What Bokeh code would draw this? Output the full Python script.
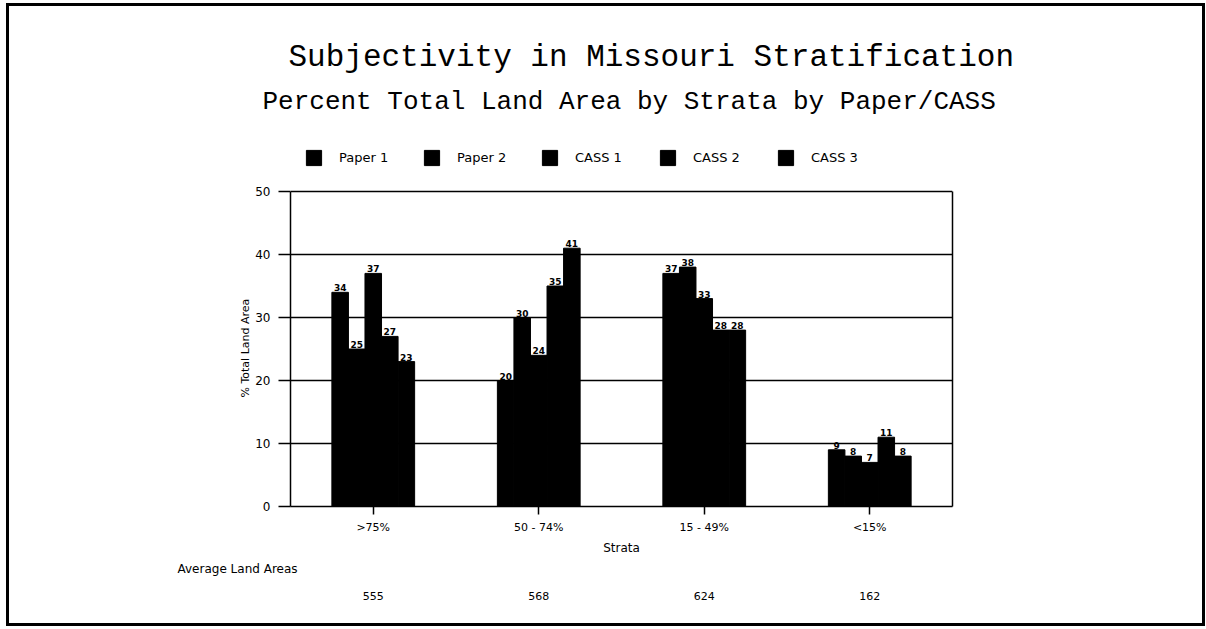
from bokeh.plotting import figure
from bokeh.models import (ColumnDataSource, FactorRange, Range1d, Legend, LegendItem,
                          LabelSet, Title, FixedTicker, CategoricalAxis, LinearAxis)
from bokeh.transform import dodge
from bokeh.core.properties import value
from bokeh.embed import file_html
from bokeh.resources import INLINE

# ---------------- data ----------------
strata = [">75%", "50 - 74%", "15 - 49%", "<15%"]
series_names = ["Paper 1", "Paper 2", "CASS 1", "CASS 2", "CASS 3"]
paper1 = [34, 20, 37, 9]
paper2 = [25, 30, 38, 8]
cass1 = [37, 24, 33, 7]
cass2 = [27, 35, 28, 11]
cass3 = [23, 41, 28, 8]
avg_land_area = [555, 568, 624, 162]
y_ticks = [0, 10, 20, 30, 40, 50]

title_text = "Subjectivity in Missouri Stratification"
subtitle_text = "Percent Total Land Area by Strata by Paper/CASS"
y_label = "% Total Land Area"
x_label = "Strata"
avg_caption = "Average Land Areas"

# ---------------- build ----------------
SANS = "DejaVu Sans"
MONO = "Liberation Mono"

keys = ["paper1", "paper2", "cass1", "cass2", "cass3"]
series_values = [paper1, paper2, cass1, cass2, cass3]
data = {"strata": strata}
for k, vals in zip(keys, series_values):
    data[k] = vals
    data[k + "_lbl"] = [str(v) for v in vals]
source = ColumnDataSource(data)

# layout (pixels); the frame reaches up to hold the legend
W, H = 1199, 623
ML, MT = 281, 114
FW, FH = 662, 386
CHART_H = 315                      # pixel height of the 0..50 chart box
MR, MB = W - ML - FW, H - MT - FH
y_max = y_ticks[-1] * FH / CHART_H

p = figure(x_range=FactorRange(*strata, range_padding=0), y_range=Range1d(0, y_max),
           width=W, height=H, output_backend="svg", toolbar_location=None,
           min_border_left=ML, min_border_right=MR, min_border_top=MT,
           min_border_bottom=MB, title_location=None,
           styles={"border": "3px solid black", "margin-left": "6px", "margin-top": "3px"})
p.background_fill_color = "white"
p.border_fill_color = "white"
p.outline_line_color = None

# second categorical range: one average-area label per stratum (same slots)
p.extra_x_ranges = {"avg": FactorRange(*[str(v) for v in avg_land_area], range_padding=0)}

bar_w = 0.1
offsets = [-0.2, -0.1, 0.0, 0.1, 0.2]
renderers = []
for k, off in zip(keys, offsets):
    xd = dodge("strata", off, range=p.x_range)
    r = p.vbar(x=xd, top=k, width=bar_w, source=source,
               fill_color="black", line_color="black", line_width=1)
    renderers.append(r)
    p.add_layout(LabelSet(x=xd, y=k, text=k + "_lbl", source=source,
                          text_align="center", text_baseline="bottom", y_offset=1,
                          text_font=value(SANS), text_font_size="9px",
                          text_font_style="bold", text_color="black"))

# x axis
xa = p.xaxis[0]
xa.axis_line_width = 1.5
xa.axis_line_color = "black"
xa.major_tick_in = 0
xa.major_tick_out = 8
xa.major_tick_line_width = 1.5
xa.major_tick_line_color = "black"
xa.major_label_standoff = 6
xa.major_label_text_font = SANS
xa.major_label_text_font_size = "11px"
xa.major_label_text_color = "black"
xa.axis_label = x_label
xa.axis_label_text_font = SANS
xa.axis_label_text_font_size = "12px"
xa.axis_label_text_font_style = "normal"
xa.axis_label_text_color = "black"
xa.axis_label_standoff = 4

# y axis (line limited to the 0..50 box)
ya = p.yaxis[0]
ya.ticker = FixedTicker(ticks=y_ticks)
ya.bounds = (y_ticks[0], y_ticks[-1])
ya.axis_line_width = 1.5
ya.axis_line_color = "black"
ya.major_tick_in = 0
ya.major_tick_out = 12
ya.major_tick_line_width = 1.5
ya.major_tick_line_color = "black"
ya.minor_tick_line_color = None
ya.major_label_standoff = 8
ya.major_label_text_font = SANS
ya.major_label_text_font_size = "12px"
ya.major_label_text_color = "black"

# right edge of the chart box
right_edge = LinearAxis(ticker=FixedTicker(ticks=[]), bounds=(y_ticks[0], y_ticks[-1]),
                        axis_line_color="black", axis_line_width=1.5,
                        major_tick_line_color=None, minor_tick_line_color=None,
                        major_label_text_font_size="0px")
p.add_layout(right_edge, "right")

p.xgrid.grid_line_color = None
p.ygrid.ticker = FixedTicker(ticks=y_ticks)
p.ygrid.grid_line_color = "black"
p.ygrid.grid_line_width = 1.5

# y axis title, placed along the left side
ytitle = Title(text=y_label, align="left", offset=109, text_font=SANS,
               text_font_size="11px", text_font_style="normal", text_color="black",
               vertical_align="middle", standoff=0)
p.add_layout(ytitle, "left")

# legend inside the upper part of the frame
legend = Legend(items=[LegendItem(label=n, renderers=[r]) for n, r in zip(series_names, renderers)],
                orientation="horizontal", location=(14, 339),
                glyph_width=19, glyph_height=19, label_standoff=16, label_width=60,
                label_height=19, spacing=23, padding=0, margin=0,
                border_line_color=None, background_fill_alpha=0,
                label_text_font=SANS, label_text_font_size="13px", label_text_color="black")
p.add_layout(legend, "center")

# titles
sub = Title(text=subtitle_text, align="left", offset=-28, text_font=MONO,
            text_font_size="26px", text_font_style="normal", text_color="black",
            vertical_align="middle", standoff=6)
p.add_layout(sub, "above")
main = Title(text=title_text, align="left", offset=-2, text_font=MONO,
             text_font_size="31px", text_font_style="normal", text_color="black",
             vertical_align="middle", standoff=14)
p.add_layout(main, "above")

# ---- below: caption and the average land area values ----
cap = Title(text=avg_caption, align="left", offset=-113, text_font=SANS,
            text_font_size="12px", text_font_style="normal", text_color="black",
            vertical_align="middle", standoff=6)
p.add_layout(cap, "below")

avg_axis = CategoricalAxis(x_range_name="avg",
                           axis_line_color=None, major_tick_line_color=None,
                           minor_tick_line_color=None, major_tick_in=0, major_tick_out=0,
                           major_label_standoff=12, major_label_text_font=SANS,
                           major_label_text_font_size="11px", major_label_text_color="black")
p.add_layout(avg_axis, "below")

open("out.html", "w").write(file_html(p, INLINE))
